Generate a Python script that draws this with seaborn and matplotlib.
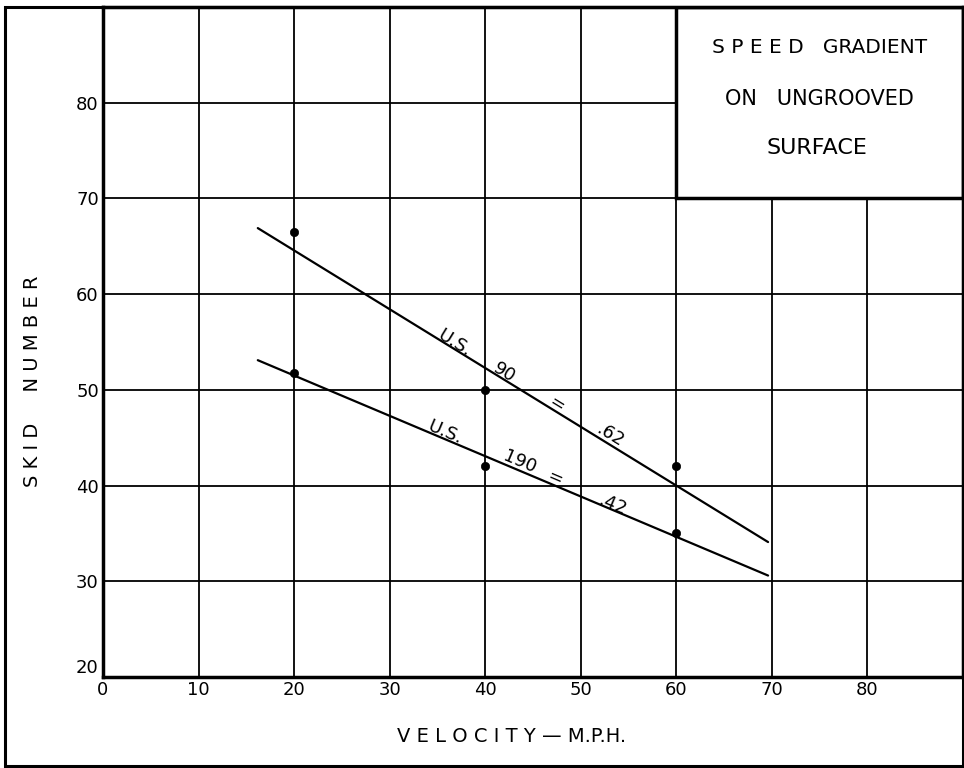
import numpy as np
import pandas as pd
import matplotlib
matplotlib.use("Agg")
import matplotlib.pyplot as plt
import seaborn as sns
from matplotlib.patches import Rectangle

# measured points (velocity mph, skid number)
speeds = [20, 40, 60]
us90 = [66.5, 50.0, 42.0]
us190 = [51.8, 42.0, 35.0]

# drawn gradient lines (end points)
line_x = [16.2, 69.6]
us90_line = [66.9, 34.1]
us190_line = [53.1, 30.6]

x_ticks = [0, 10, 20, 30, 40, 50, 60, 70, 80]
y_ticks = [20, 30, 40, 50, 60, 70, 80]

sns.set_style("white")
plt.rcParams['font.family'] = ['DejaVu Sans']
plt.rcParams['text.color'] = 'black'
plt.rcParams['xtick.color'] = 'black'
plt.rcParams['ytick.color'] = 'black'

fig = plt.figure(figsize=(9.64, 7.68), dpi=100)
ax = fig.add_axes([103 / 964, 91 / 768, 860 / 964, 670 / 768])

pts = pd.DataFrame({
    "speed": speeds * 2,
    "skid": us90 + us190,
    "road": ["US 90"] * 3 + ["US 190"] * 3,
})
lines = pd.DataFrame({
    "speed": line_x * 2,
    "skid": us90_line + us190_line,
    "road": ["US 90"] * 2 + ["US 190"] * 2,
})

sns.lineplot(data=lines, x="speed", y="skid", units="road", estimator=None,
             color="black", linewidth=1.6, ax=ax, zorder=3)
sns.scatterplot(data=pts, x="speed", y="skid", color="black", s=36,
                edgecolor="black", ax=ax, zorder=4, legend=False)

ax.set_xlim(0, 90)
ax.set_ylim(20, 90)
ax.set_xticks(x_ticks)
ax.set_yticks(y_ticks)
ax.set_xticklabels([str(v) for v in x_ticks])
ax.set_yticklabels([str(v) for v in y_ticks])
ax.get_yticklabels()[0].set_verticalalignment("bottom")
ax.tick_params(length=0, labelsize=13, pad=3, labelcolor="black")
ax.grid(True, color="black", linewidth=1.3)
ax.set_axisbelow(True)
for s in ax.spines.values():
    s.set_linewidth(2.5)
    s.set_color("black")
ax.set_xlabel("")
ax.set_ylabel("")

# title box in the upper-right corner
ax.add_patch(Rectangle((60, 70), 30, 20, facecolor="white", edgecolor="black",
                       linewidth=2.5, zorder=2.5))
ax.text(75, 85.8, "S P E E D   GRADIENT", ha="center", va="center", fontsize=14.5, zorder=5)
ax.text(75, 80.4, "ON   UNGROOVED", ha="center", va="center", fontsize=15, zorder=5)
ax.text(74.7, 75.3, "SURFACE", ha="center", va="center", fontsize=16, zorder=5)

# labels along the lines
for x, y, t in [(36.8, 54.9, "U.S."), (42.0, 51.8, "90"), (47.5, 48.5, "="), (53.0, 45.3, ".62")]:
    ax.text(x, y, t, rotation=-31.5, ha="center", va="center", fontsize=13,
            rotation_mode="anchor", zorder=5)
for x, y, t in [(35.8, 45.5, "U.S."), (43.6, 42.5, "190"), (47.3, 40.8, "="), (53.3, 38.0, ".42")]:
    ax.text(x, y, t, rotation=-23, ha="center", va="center", fontsize=13,
            rotation_mode="anchor", zorder=5)

fig.text(512 / 964, 1 - 737 / 768, "V E L O C I T Y — M.P.H.", ha="center",
         va="center", fontsize=14)
fig.text(33 / 964, 1 - 381 / 768, "S K I D     N U M B E R", ha="center",
         va="center", rotation=90, fontsize=14)

# outer frame
fig.patches.append(Rectangle((5 / 964, 2 / 768), 958 / 964, 759 / 768,
                             transform=fig.transFigure, fill=False,
                             edgecolor="black", linewidth=2.2))

fig.savefig("out.png", dpi=100)
